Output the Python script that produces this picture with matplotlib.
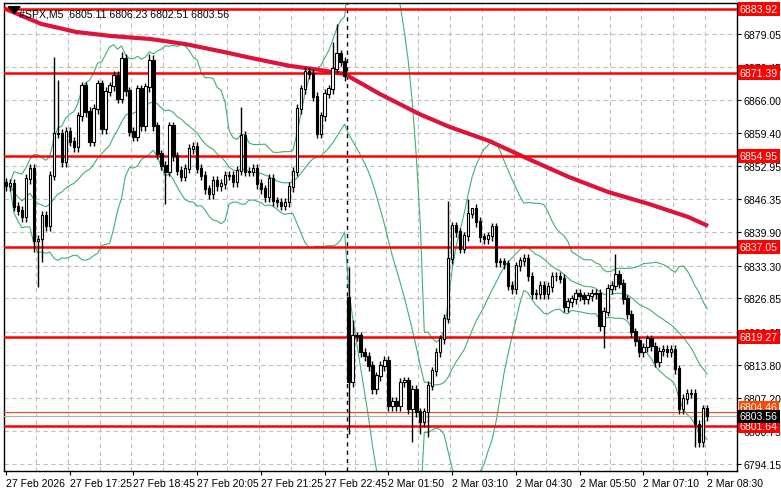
import numpy as np
import pandas as pd
import matplotlib
matplotlib.use('Agg')
import matplotlib.pyplot as plt

plt.rcParams['font.family'] = ['Liberation Sans', 'DejaVu Sans']

# M5 closes (two sessions split by the dashed line)
closes_fri = [6849.0, 6849.4, 6844.9, 6844.1, 6842.9, 6850.4, 6852.4, 6838.2, 6838.5, 6843.1,
              6841.1, 6851.0, 6859.3, 6859.3, 6853.7, 6859.7, 6857.7, 6856.7, 6862.8, 6868.7,
              6863.6, 6857.7, 6864.2, 6869.1, 6860.2, 6867.6, 6868.7, 6870.7, 6866.2, 6874.1,
              6867.7, 6859.7, 6858.7, 6868.1, 6860.8, 6868.5, 6873.7, 6860.8, 6855.3, 6853.0,
              6851.8, 6860.8, 6854.9, 6852.0, 6850.8, 6852.4, 6856.3, 6856.7, 6852.4, 6851.0,
              6848.4, 6847.4, 6850.0, 6849.0, 6849.4, 6851.0, 6851.0, 6849.8, 6852.0, 6858.9,
              6851.8, 6851.8, 6852.4, 6849.4, 6848.4, 6846.8, 6850.4, 6846.0, 6845.8, 6845.1,
              6845.8, 6848.8, 6851.8, 6864.2, 6868.1, 6871.5, 6871.1, 6866.6, 6859.3, 6862.8,
              6867.2, 6868.1, 6872.1, 6875.0, 6873.5, 6870.7]
closes_mon = [6810.3, 6819.4, 6819.4, 6816.2, 6815.4, 6813.5, 6808.9, 6811.5, 6813.5, 6814.5,
              6805.6, 6806.4, 6805.6, 6810.3, 6810.5, 6805.0, 6808.9, 6804.4, 6802.4, 6804.4,
              6809.6, 6812.5, 6816.2, 6818.8, 6822.8, 6834.6, 6841.1, 6839.9, 6836.6, 6839.1,
              6843.5, 6844.5, 6841.9, 6838.9, 6838.5, 6839.1, 6840.9, 6834.0, 6834.0, 6833.6,
              6829.3, 6828.7, 6833.2, 6834.2, 6834.6, 6831.2, 6827.7, 6827.7, 6829.3, 6827.7,
              6829.1, 6831.2, 6831.2, 6830.7, 6825.1, 6826.1, 6826.7, 6827.7, 6827.3, 6826.7,
              6827.3, 6827.7, 6827.7, 6821.4, 6824.2, 6828.7, 6829.3, 6831.6, 6829.7, 6826.7,
              6823.7, 6820.2, 6818.4, 6816.2, 6817.2, 6818.8, 6817.4, 6814.3, 6816.4, 6816.8,
              6816.2, 6816.8, 6812.9, 6805.0, 6807.0, 6808.0, 6808.0, 6802.0, 6798.5, 6805.0,
              6803.56]
first_open = 6849.6
gap_open = 6827.0   # Monday opening print

# bars with long wicks: index -> high / low
long_highs = {12: 6874.5, 13: 6870.0, 29: 6875.5, 36: 6875.0, 37: 6874.8, 59: 6864.6,
              82: 6877.5, 83: 6881.0, 86: 6833.0, 87: 6822.5, 111: 6846.0, 116: 6846.4,
              117: 6844.5, 153: 6835.6}
long_lows = {7: 6836.0, 8: 6829.0, 9: 6834.0, 40: 6845.4, 86: 6800.0, 102: 6798.5,
             104: 6800.0, 106: 6799.5, 150: 6817.0, 173: 6797.5}

ma_idx = [0, 8.75, 17.5, 26.25, 36.25, 45, 53.75, 62.5, 71.25, 78.75, 85, 93.75, 103.75,
          111.25, 121.25, 131.25, 141.25, 151.25, 161.25, 171.25, 175.75]
ma_val = [6883.9, 6881.0, 6879.4, 6878.6, 6878.0, 6877.0, 6875.6, 6874.1, 6872.7, 6871.9,
          6871.1, 6867.2, 6863.2, 6860.7, 6857.9, 6854.3, 6850.8, 6847.8, 6845.5, 6842.9, 6841.3]

levels = [6883.92, 6871.39, 6854.95, 6837.05, 6819.27, 6801.64]
y_ticks = [6879.05, 6872.45, 6866.00, 6859.40, 6852.95, 6846.35, 6839.90, 6833.30,
           6826.85, 6820.25, 6813.80, 6807.20, 6800.75, 6794.15]
x_labels = ['27 Feb 2026', '27 Feb 17:25', '27 Feb 18:45', '27 Feb 20:05', '27 Feb 21:25',
            '27 Feb 22:45', '2 Mar 01:50', '2 Mar 03:10', '2 Mar 04:30', '2 Mar 05:50',
            '2 Mar 07:10', '2 Mar 08:30']

closes = np.array(closes_fri + closes_mon)
n = len(closes)
opens = np.concatenate([[first_open], closes[:-1]])
opens[len(closes_fri)] = gap_open
highs = np.maximum(opens, closes) + 0.9
lows = np.minimum(opens, closes) - 0.9
for k, v in long_highs.items():
    highs[k] = v
for k, v in long_lows.items():
    lows[k] = v

s = pd.Series(closes)
mid = s.rolling(20, min_periods=2).mean()
sd = s.rolling(20, min_periods=2).std(ddof=0)
upper, lower = mid + 2 * sd, mid - 2 * sd

fs = 7.6
fig = plt.figure(figsize=(7.81, 4.89), dpi=100)
ax = fig.add_axes([4 / 781, 17 / 489, 733 / 781, 468 / 489])
ax.set_xlim(-0.5, 182.8)
ax.set_ylim(6792.8, 6885.1)

ax.set_yticks(y_ticks)
ax.set_yticks([], minor=True)
ax.set_xticks(np.arange(0, n + 1, 16))
ax.set_xticks(np.arange(7.5, n + 8, 8), minor=True)
ax.grid(True, which='minor', axis='x', color='#c0c0c0', ls=(0, (4, 3)), lw=0.8)
ax.grid(True, which='major', axis='y', color='#c0c0c0', ls=(0, (4, 3)), lw=0.8)
ax.yaxis.tick_right()
ax.yaxis.set_major_formatter(matplotlib.ticker.FormatStrFormatter('%.2f'))
ax.set_xticklabels(x_labels[:len(ax.get_xticks())])
ax.tick_params(labelsize=fs, length=3, pad=2)
ax.tick_params(axis='x', which='minor', length=0)
plt.setp(ax.get_xticklabels(), ha='left')

for lv in levels:
    ax.axhline(lv, color='#ff0000', lw=1.8, zorder=4)
ax.axhline(6804.46, color='#ff4500', lw=0.8, zorder=4)
ax.axhline(6803.56, color='#b0b0b0', lw=0.8, zorder=4)
ax.axvline(len(closes_fri) - 0.5, color='black', ls=(0, (3, 3)), lw=1)

ax.plot(upper.index, upper, color='#3cb371', lw=0.8, zorder=2)
ax.plot(mid.index, mid, color='#3cb371', lw=0.8, zorder=2)
ax.plot(lower.index, lower, color='#3cb371', lw=0.8, zorder=2)
ax.plot(ma_idx, ma_val, color='#dc143c', lw=3, zorder=3)

x = np.arange(n)
ax.vlines(x, lows, highs, color='black', lw=1, zorder=5)
up = closes >= opens
ax.bar(x, np.abs(closes - opens) + 0.15, bottom=np.minimum(opens, closes), width=0.6,
       color=np.where(up, 'white', 'black'), edgecolor='black', lw=0.8, zorder=6)

for lv in levels:
    ax.text(1.004, lv, f'{lv:.2f}', transform=ax.get_yaxis_transform(), fontsize=fs,
            color='white', va='center', ha='left',
            bbox=dict(boxstyle='square,pad=0.2', fc='#ff0000', ec='none'), zorder=10)
ax.text(1.004, 6804.46 + 0.9, '6804.46', transform=ax.get_yaxis_transform(), fontsize=fs,
        color='white', va='center', ha='left',
        bbox=dict(boxstyle='square,pad=0.1', fc='#ff4500', ec='none'), zorder=9)
ax.text(1.004, 6803.56, '6803.56', transform=ax.get_yaxis_transform(), fontsize=fs,
        color='white', va='center', ha='left',
        bbox=dict(boxstyle='square,pad=0.15', fc='black', ec='none'), zorder=10)

ax.text(0.02, 0.988, '#SPX,M5  6805.11 6806.23 6802.51 6803.56', transform=ax.transAxes,
        fontsize=fs, va='top', ha='left', zorder=11)
ax.fill([0.006, 0.022, 0.014], [0.992, 0.992, 0.978], transform=ax.transAxes,
        color='black', zorder=11)

for sp in ax.spines.values():
    sp.set_linewidth(1)

fig.savefig('out.png', dpi=100)
